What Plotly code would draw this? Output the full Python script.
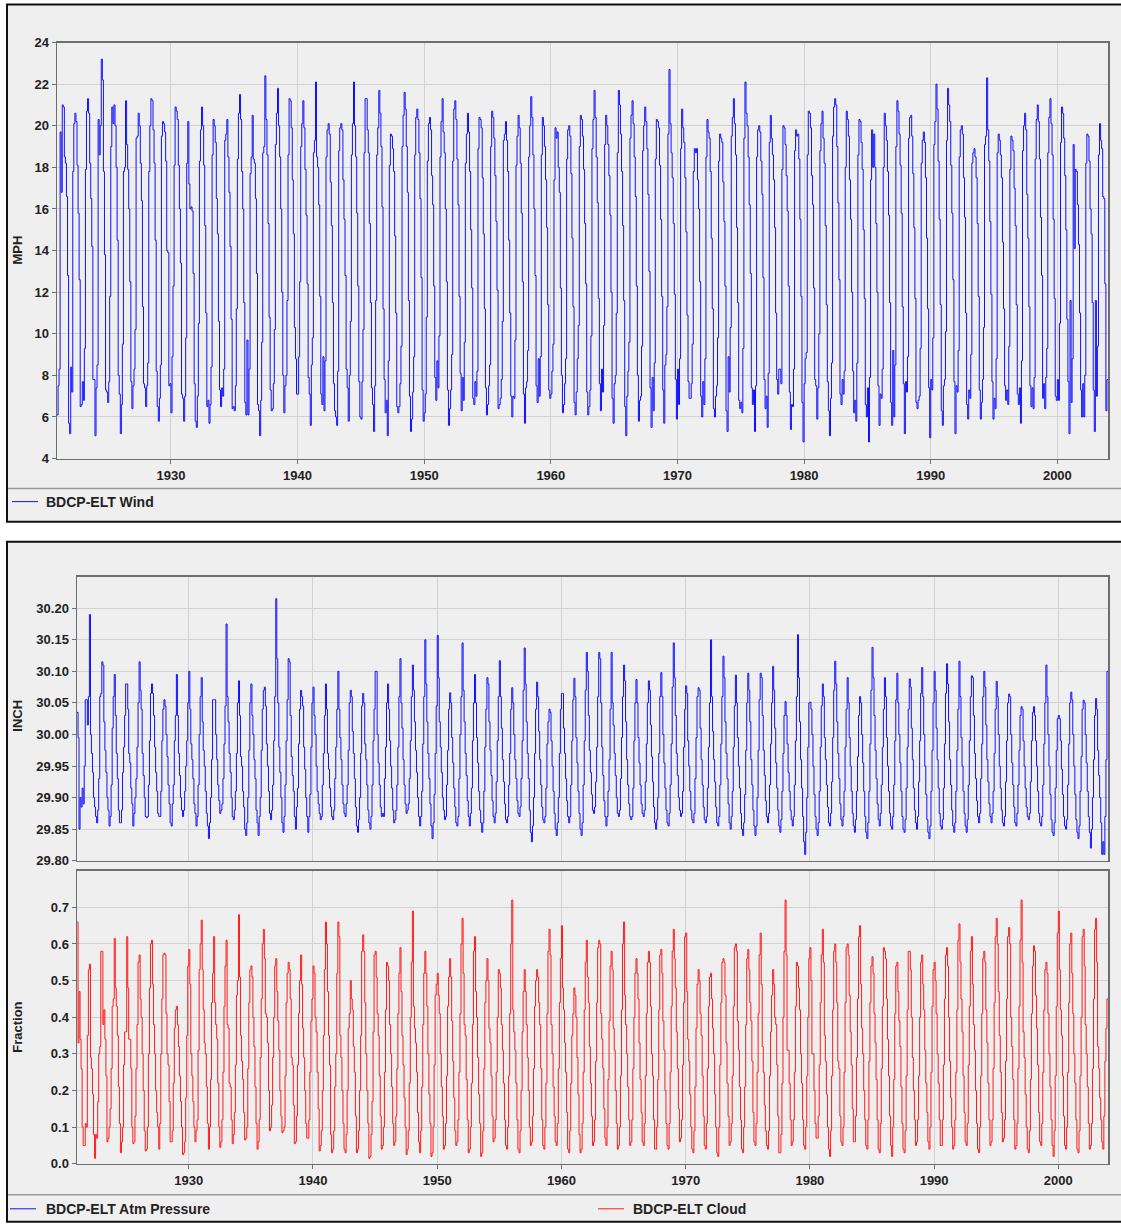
import pandas as pd
import plotly.graph_objects as go

# ---------------- data (monthly, Jan..Dec, one row per calendar year) ----------------
YEARS = list(range(1921, 2004))

WIND_MPH = [
    [6.1, 7.5, 8.3, 19.7, 16.8, 21.0, 20.9, 18.5, 18.2, 16.6, 12.8, 5.7],   # 1921
    [5.2, 8.4, 7.2, 17.8, 20.1, 20.6, 20.2, 18.1, 15.8, 12.6, 6.5, 6.6],
    [7.7, 6.8, 9.3, 17.9, 20.7, 21.3, 20.6, 18.2, 16.5, 14.2, 7.8, 7.8],
    [5.1, 7.4, 8.5, 20.3, 18.6, 20.0, 23.2, 22.2, 17.8, 13.8, 7.3, 7.2],
    [6.7, 7.7, 11.8, 19.0, 20.9, 20.1, 21.0, 20.0, 18.0, 14.5, 8.0, 7.1],
    [5.2, 6.6, 9.5, 17.8, 18.0, 21.2, 19.1, 17.9, 16.0, 12.5, 7.7, 6.4],
    [7.5, 8.3, 10.2, 19.4, 19.5, 20.6, 20.0, 18.2, 16.4, 11.3, 7.6, 7.4],
    [6.5, 7.5, 8.6, 17.8, 20.0, 21.3, 21.2, 19.8, 18.2, 14.5, 8.2, 6.5],
    [5.8, 6.9, 8.5, 19.5, 20.2, 20.1, 19.7, 18.3, 14.0, 13.9, 7.5, 7.6],
    [6.2, 8.9, 12.3, 18.1, 20.9, 20.7, 20.3, 18.1, 16.0, 13.4, 7.1, 6.9],   # 1930
    [5.8, 7.0, 9.8, 18.2, 20.2, 17.2, 16.0, 16.1, 15.9, 12.9, 7.6, 5.8],
    [5.5, 7.0, 10.5, 18.3, 19.8, 20.9, 20.0, 18.1, 15.2, 11.0, 6.5, 6.8],
    [5.7, 6.6, 8.4, 18.6, 20.3, 20.0, 19.2, 16.5, 14.8, 10.6, 7.3, 6.5],
    [7.4, 7.0, 8.3, 19.3, 19.6, 20.3, 18.5, 16.8, 14.2, 10.7, 6.4, 6.5],
    [6.3, 7.5, 11.2, 18.4, 20.6, 21.5, 20.3, 17.8, 16.0, 11.5, 6.7, 6.1],
    [9.7, 6.1, 8.3, 17.7, 18.5, 20.5, 18.4, 18.2, 16.5, 12.9, 6.6, 6.3],
    [5.1, 6.8, 9.6, 18.7, 19.0, 22.4, 20.3, 18.6, 15.3, 10.8, 7.3, 6.3],
    [6.4, 7.6, 10.2, 19.1, 20.6, 21.8, 20.0, 18.5, 16.0, 12.0, 8.0, 6.2],
    [7.5, 8.0, 11.6, 18.6, 21.3, 21.2, 19.9, 17.4, 14.8, 10.3, 8.8, 7.1],
    [7.1, 8.9, 12.5, 19.0, 20.1, 21.2, 19.9, 17.9, 15.7, 12.4, 7.9, 7.1],   # 1940
    [5.6, 8.5, 9.8, 18.7, 19.3, 22.1, 18.5, 18.0, 16.2, 11.8, 7.1, 6.6],
    [8.9, 6.3, 8.7, 18.5, 19.8, 20.1, 19.6, 17.3, 15.2, 11.5, 7.6, 6.3],
    [6.0, 5.6, 8.2, 18.8, 19.9, 20.1, 19.8, 17.4, 15.5, 12.8, 8.3, 7.4],
    [5.8, 8.0, 10.6, 18.6, 20.1, 22.1, 20.0, 18.5, 15.8, 12.3, 7.7, 6.0],
    [5.9, 7.7, 10.2, 18.7, 21.3, 21.3, 19.8, 18.7, 15.3, 11.5, 7.4, 6.6],
    [5.3, 7.5, 11.6, 18.6, 19.9, 21.7, 20.6, 19.0, 16.1, 11.2, 7.8, 6.2],
    [6.8, 5.1, 8.7, 18.1, 19.6, 19.5, 18.9, 17.8, 14.7, 11.0, 6.5, 6.2],
    [6.5, 7.6, 9.4, 19.0, 20.5, 21.6, 20.8, 19.0, 16.8, 11.6, 7.0, 5.3],
    [5.9, 7.2, 8.9, 18.6, 20.4, 20.8, 20.3, 18.7, 16.5, 12.7, 7.3, 5.8],
    [6.2, 7.1, 10.8, 18.3, 20.1, 20.4, 19.8, 17.6, 16.2, 12.3, 7.9, 6.8],   # 1950
    [8.7, 7.4, 9.9, 18.5, 20.2, 21.3, 19.7, 18.7, 16.0, 12.5, 7.3, 5.6],
    [6.4, 7.3, 9.0, 18.3, 20.8, 21.2, 20.3, 18.4, 16.2, 11.8, 8.1, 6.3],
    [7.9, 6.8, 9.6, 18.2, 19.6, 20.6, 19.7, 17.8, 15.0, 12.2, 6.9, 6.6],
    [7.7, 7.0, 8.2, 18.9, 20.4, 20.3, 19.9, 17.5, 14.8, 11.2, 7.4, 6.1],
    [6.6, 7.5, 8.5, 19.0, 20.7, 20.4, 19.4, 17.6, 15.4, 12.1, 6.4, 6.6],
    [6.9, 7.8, 10.6, 19.3, 19.6, 20.2, 19.3, 17.8, 14.5, 11.0, 7.0, 6.0],
    [7.0, 6.9, 9.7, 18.1, 19.5, 20.5, 19.9, 18.2, 15.8, 12.5, 7.1, 5.7],
    [7.4, 7.7, 9.2, 18.5, 20.0, 21.4, 20.4, 18.6, 16.0, 12.8, 7.5, 6.7],
    [8.8, 7.0, 8.9, 18.6, 20.4, 20.0, 19.0, 17.4, 15.1, 11.4, 7.3, 6.9],
    [7.1, 8.2, 9.5, 17.4, 19.9, 19.4, 19.7, 18.0, 16.8, 12.2, 8.0, 6.2],   # 1960
    [6.6, 7.6, 8.8, 18.4, 19.8, 20.0, 19.5, 17.7, 14.6, 11.3, 6.7, 6.1],
    [7.2, 8.8, 10.4, 19.0, 20.5, 20.3, 19.5, 17.9, 15.3, 12.4, 7.2, 6.1],
    [6.5, 7.3, 9.9, 18.9, 20.3, 21.7, 20.4, 18.5, 16.3, 11.7, 7.6, 6.3],
    [8.3, 7.2, 10.4, 19.1, 20.5, 20.0, 19.1, 17.6, 15.7, 12.0, 6.9, 5.7],
    [7.6, 8.0, 11.0, 18.7, 21.7, 21.0, 19.6, 17.8, 15.2, 11.6, 6.5, 5.1],
    [7.0, 8.2, 9.6, 19.4, 20.5, 21.2, 20.1, 18.5, 16.6, 12.3, 8.0, 5.8],
    [6.8, 7.0, 9.4, 18.8, 20.0, 20.9, 20.2, 18.9, 16.7, 13.0, 7.4, 5.5],
    [7.9, 6.3, 8.6, 18.4, 20.3, 20.2, 19.9, 18.1, 15.5, 11.8, 7.3, 5.7],
    [8.5, 9.0, 11.3, 19.6, 22.7, 20.1, 18.7, 17.5, 15.3, 11.9, 7.8, 5.9],
    [8.3, 6.6, 8.8, 18.9, 20.8, 19.9, 19.2, 17.5, 14.9, 10.9, 7.7, 6.9],   # 1970
    [6.9, 7.6, 9.5, 17.8, 18.9, 18.7, 18.9, 17.4, 16.0, 12.5, 7.0, 6.0],
    [7.7, 6.6, 8.8, 18.5, 20.3, 19.7, 19.4, 17.8, 14.6, 11.2, 6.4, 6.0],
    [7.0, 7.5, 9.8, 18.3, 19.6, 19.4, 19.2, 17.3, 15.4, 12.3, 6.3, 5.3],
    [8.9, 7.2, 10.3, 19.5, 20.4, 21.3, 20.1, 18.6, 15.1, 11.5, 6.8, 6.4],
    [6.7, 6.2, 9.3, 19.4, 22.1, 20.6, 20.0, 18.5, 16.2, 12.9, 7.4, 6.6],
    [7.3, 5.3, 7.5, 18.5, 19.8, 20.0, 19.7, 18.3, 16.7, 12.7, 7.8, 6.4],
    [7.0, 5.5, 8.1, 19.2, 20.5, 19.4, 18.6, 17.4, 15.1, 11.0, 7.8, 7.1],
    [8.3, 8.3, 7.6, 17.9, 20.0, 19.9, 19.1, 17.6, 15.9, 12.3, 7.2, 5.4],
    [6.6, 6.5, 8.3, 18.8, 19.8, 19.5, 19.6, 18.4, 15.5, 11.8, 6.7, 4.8],
    [7.6, 8.8, 9.1, 18.6, 20.7, 20.6, 19.9, 17.6, 16.2, 12.2, 7.8, 7.5],   # 1980
    [5.9, 7.4, 10.0, 18.8, 20.1, 20.7, 19.4, 18.2, 15.2, 11.4, 7.7, 6.3],
    [5.1, 6.9, 8.6, 19.5, 20.9, 21.3, 21.0, 19.0, 16.3, 12.6, 7.1, 6.6],
    [7.8, 7.1, 8.2, 18.0, 20.7, 20.3, 19.5, 17.4, 15.5, 12.0, 8.2, 6.2],
    [6.8, 5.8, 8.6, 18.6, 20.3, 20.2, 19.2, 17.9, 15.0, 11.7, 6.6, 6.0],
    [7.4, 4.8, 7.9, 17.4, 19.8, 18.0, 19.6, 18.0, 15.3, 12.0, 7.5, 5.6],
    [7.1, 6.9, 8.3, 18.0, 20.6, 20.0, 19.3, 17.8, 15.7, 11.5, 6.7, 5.6],
    [9.2, 6.0, 8.5, 19.0, 21.2, 20.7, 19.6, 18.1, 15.8, 11.3, 7.6, 5.2],
    [7.7, 7.2, 8.9, 19.4, 20.4, 20.5, 19.5, 17.7, 15.1, 11.7, 6.7, 6.4],
    [6.8, 7.0, 9.3, 18.2, 19.3, 19.7, 19.2, 17.5, 14.6, 11.2, 7.4, 5.0],
    [7.8, 7.3, 9.8, 19.1, 20.2, 22.0, 20.8, 18.3, 15.5, 11.4, 6.3, 5.6],   # 1990
    [7.5, 7.8, 10.1, 19.3, 21.8, 21.0, 20.2, 18.1, 15.8, 12.6, 7.7, 5.2],
    [7.5, 7.2, 9.2, 18.5, 19.8, 20.0, 19.6, 17.5, 15.6, 11.0, 6.6, 5.9],
    [7.3, 6.9, 9.0, 18.2, 18.7, 18.9, 18.5, 17.5, 15.3, 11.8, 7.3, 5.9],
    [6.7, 7.8, 10.3, 19.1, 19.5, 22.3, 19.8, 18.3, 15.4, 11.9, 7.7, 5.9],
    [6.9, 6.4, 8.8, 18.7, 19.6, 19.3, 18.6, 17.5, 14.4, 11.2, 7.5, 6.8],
    [7.3, 6.6, 9.4, 17.9, 19.5, 19.3, 18.8, 17.0, 15.2, 11.4, 7.1, 6.6],
    [7.4, 5.7, 8.7, 18.8, 20.0, 20.6, 19.8, 16.7, 14.6, 11.3, 7.5, 6.5],
    [7.4, 6.4, 7.9, 18.4, 20.3, 21.0, 20.2, 18.4, 15.6, 12.8, 6.9, 7.6],
    [6.4, 7.9, 9.3, 18.7, 20.4, 21.3, 20.1, 18.6, 15.5, 11.7, 7.0, 6.8],
    [7.8, 6.8, 10.5, 19.2, 20.9, 20.6, 19.4, 17.6, 15.0, 10.7, 7.7, 5.2],   # 2000
    [11.6, 6.7, 8.8, 19.1, 14.1, 17.9, 17.8, 16.2, 14.3, 11.0, 7.3, 6.0],
    [7.6, 6.0, 8.0, 18.2, 19.6, 19.5, 18.3, 16.0, 14.8, 11.5, 7.3, 5.3],
    [11.6, 7.0, 9.4, 18.6, 20.1, 19.3, 18.9, 16.6, 16.5, 12.4, 6.3, 7.8],   # 2003
]

ATM_PRESSURE_INCH = [
    [30.035, 29.995, 29.85, 29.90, 29.885, 29.915, 29.89, 29.95, 30.055, 30.055, 30.015, 30.06],  # 1921
    [30.19, 30.00, 29.97, 29.94, 29.90, 29.885, 29.87, 29.86, 29.88, 29.93, 30.06, 30.065],
    [30.115, 30.11, 30.02, 29.975, 29.94, 29.90, 29.88, 29.855, 29.87, 29.92, 30.01, 30.06],
    [30.095, 30.03, 29.97, 29.93, 29.88, 29.86, 29.86, 29.88, 29.94, 29.98, 30.03, 30.08],
    [30.08, 30.04, 29.97, 29.955, 29.915, 29.89, 29.855, 29.875, 29.90, 29.93, 29.98, 30.05],
    [30.115, 30.07, 30.04, 29.97, 29.935, 29.90, 29.87, 29.868, 29.87, 29.92, 29.99, 30.065],
    [30.08, 30.065, 30.03, 29.98, 29.94, 29.91, 29.875, 29.87, 29.87, 29.91, 29.99, 30.04],
    [30.055, 30.045, 30.00, 29.965, 29.92, 29.89, 29.86, 29.855, 29.89, 29.92, 29.99, 30.03],
    [30.095, 30.03, 29.97, 29.935, 29.90, 29.88, 29.87, 29.88, 29.91, 29.95, 29.99, 30.05],
    [30.10, 30.04, 29.985, 29.96, 29.93, 29.89, 29.875, 29.855, 29.87, 29.92, 30.00, 30.06],      # 1930
    [30.09, 30.02, 29.975, 29.95, 29.91, 29.875, 29.855, 29.835, 29.86, 29.90, 29.96, 30.055],
    [30.055, 30.055, 30.00, 29.96, 29.92, 29.895, 29.875, 29.88, 29.89, 29.93, 29.985, 30.045],
    [30.175, 30.06, 30.02, 29.97, 29.94, 29.90, 29.87, 29.865, 29.88, 29.91, 29.97, 30.05],
    [30.085, 30.03, 29.965, 29.95, 29.91, 29.885, 29.85, 29.84, 29.86, 29.90, 29.975, 30.05],
    [30.08, 30.03, 30.00, 29.96, 29.93, 29.88, 29.86, 29.84, 29.87, 29.90, 29.975, 30.04],
    [30.07, 30.075, 30.045, 29.985, 29.95, 29.91, 29.875, 29.865, 29.88, 29.92, 29.99, 30.06],
    [30.215, 30.12, 30.05, 29.98, 29.94, 29.90, 29.86, 29.845, 29.87, 29.92, 29.99, 30.055],
    [30.12, 30.115, 30.03, 29.965, 29.935, 29.91, 29.87, 29.85, 29.885, 29.915, 29.985, 30.04],
    [30.07, 30.06, 30.045, 29.98, 29.945, 29.90, 29.87, 29.845, 29.87, 29.905, 29.98, 30.05],
    [30.075, 30.03, 30.00, 29.95, 29.91, 29.89, 29.875, 29.865, 29.87, 29.92, 29.97, 30.03],      # 1940
    [30.08, 30.04, 29.97, 29.945, 29.915, 29.885, 29.87, 29.865, 29.88, 29.93, 29.98, 30.04],
    [30.10, 30.04, 29.995, 29.96, 29.92, 29.89, 29.875, 29.87, 29.89, 29.92, 29.975, 30.05],
    [30.07, 30.06, 30.005, 29.97, 29.93, 29.885, 29.855, 29.845, 29.865, 29.90, 29.97, 30.045],
    [30.065, 30.05, 29.985, 29.96, 29.92, 29.88, 29.86, 29.85, 29.87, 29.92, 29.99, 30.04],
    [30.10, 30.10, 30.00, 29.955, 29.92, 29.885, 29.87, 29.875, 29.87, 29.93, 29.98, 30.05],
    [30.08, 30.04, 29.99, 29.95, 29.915, 29.88, 29.86, 29.865, 29.88, 29.92, 29.98, 30.06],
    [30.12, 30.05, 30.01, 29.96, 29.92, 29.89, 29.875, 29.88, 29.89, 29.93, 29.99, 30.06],
    [30.11, 30.07, 30.02, 29.975, 29.94, 29.90, 29.87, 29.855, 29.87, 29.91, 29.985, 30.06],
    [30.15, 30.08, 30.02, 29.97, 29.93, 29.89, 29.855, 29.835, 29.86, 29.905, 29.97, 30.045],
    [30.157, 30.09, 30.02, 29.98, 29.94, 29.90, 29.88, 29.865, 29.87, 29.92, 29.975, 30.04],      # 1950
    [30.066, 30.05, 29.995, 29.955, 29.915, 29.885, 29.86, 29.855, 29.87, 29.93, 30.00, 30.06],
    [30.145, 30.07, 30.02, 29.97, 29.935, 29.895, 29.87, 29.855, 29.875, 29.915, 29.99, 30.05],
    [30.095, 30.05, 29.995, 29.955, 29.91, 29.88, 29.86, 29.845, 29.86, 29.91, 29.98, 30.04],
    [30.09, 30.08, 30.02, 29.975, 29.935, 29.895, 29.87, 29.86, 29.875, 29.925, 29.99, 30.06],
    [30.117, 30.06, 30.01, 29.96, 29.925, 29.89, 29.865, 29.86, 29.87, 29.92, 29.97, 30.04],
    [30.074, 30.05, 30.00, 29.96, 29.93, 29.895, 29.875, 29.87, 29.885, 29.93, 29.99, 30.07],
    [30.137, 30.08, 30.02, 29.97, 29.93, 29.88, 29.845, 29.83, 29.855, 29.90, 29.97, 30.04],
    [30.083, 30.06, 30.005, 29.96, 29.92, 29.885, 29.865, 29.86, 29.87, 29.915, 29.985, 30.02],
    [30.04, 30.035, 29.99, 29.95, 29.91, 29.875, 29.85, 29.84, 29.86, 29.90, 29.97, 30.04],
    [30.065, 30.065, 30.01, 29.97, 29.93, 29.895, 29.87, 29.86, 29.87, 29.92, 29.99, 30.055],     # 1960
    [30.089, 30.06, 29.995, 29.955, 29.91, 29.875, 29.85, 29.84, 29.86, 29.92, 29.99, 30.07],
    [30.13, 30.10, 30.03, 29.975, 29.94, 29.905, 29.88, 29.875, 29.885, 29.925, 29.98, 30.06],
    [30.13, 30.12, 30.05, 29.98, 29.935, 29.895, 29.87, 29.855, 29.87, 29.91, 29.96, 30.04],
    [30.13, 30.05, 30.015, 29.97, 29.935, 29.90, 29.875, 29.87, 29.88, 29.93, 29.995, 30.06],
    [30.11, 30.085, 30.02, 29.96, 29.92, 29.89, 29.87, 29.865, 29.87, 29.915, 29.99, 30.05],
    [30.087, 30.05, 29.995, 29.955, 29.92, 29.89, 29.875, 29.87, 29.88, 29.925, 29.985, 30.05],
    [30.085, 30.07, 30.015, 29.965, 29.925, 29.885, 29.86, 29.85, 29.865, 29.90, 29.97, 30.06],
    [30.098, 30.06, 30.00, 29.955, 29.915, 29.88, 29.86, 29.855, 29.875, 29.92, 29.985, 30.075],
    [30.145, 30.09, 30.03, 29.97, 29.935, 29.90, 29.88, 29.87, 29.875, 29.91, 29.98, 30.04],
    [30.077, 30.065, 29.99, 29.95, 29.91, 29.88, 29.865, 29.86, 29.875, 29.93, 29.995, 30.06],    # 1970
    [30.074, 30.07, 30.01, 29.96, 29.92, 29.885, 29.865, 29.86, 29.87, 29.915, 29.98, 30.05],
    [30.15, 30.06, 30.005, 29.96, 29.925, 29.885, 29.86, 29.855, 29.87, 29.92, 29.985, 30.06],
    [30.124, 30.09, 30.02, 29.97, 29.93, 29.89, 29.86, 29.85, 29.87, 29.91, 29.98, 30.045],
    [30.094, 30.05, 29.995, 29.95, 29.915, 29.875, 29.85, 29.84, 29.86, 29.905, 29.975, 30.05],
    [30.097, 30.07, 30.02, 29.96, 29.92, 29.88, 29.855, 29.84, 29.855, 29.90, 29.975, 30.055],
    [30.097, 30.09, 30.03, 29.975, 29.935, 29.895, 29.87, 29.86, 29.875, 29.92, 29.985, 30.05],
    [30.108, 30.07, 30.01, 29.955, 29.915, 29.88, 29.855, 29.845, 29.865, 29.91, 29.97, 30.03],
    [30.052, 30.03, 29.985, 29.94, 29.91, 29.88, 29.865, 29.855, 29.87, 29.92, 29.99, 30.06],
    [30.158, 30.09, 30.02, 29.96, 29.915, 29.87, 29.83, 29.81, 29.845, 29.90, 29.98, 30.05],
    [30.051, 30.04, 30.00, 29.95, 29.905, 29.87, 29.85, 29.84, 29.86, 29.91, 29.98, 30.045],      # 1980
    [30.08, 30.06, 29.995, 29.96, 29.92, 29.885, 29.86, 29.855, 29.875, 29.925, 29.995, 30.07],
    [30.116, 30.08, 30.02, 29.97, 29.93, 29.89, 29.865, 29.855, 29.87, 29.91, 29.98, 30.04],
    [30.09, 30.05, 29.995, 29.95, 29.91, 29.875, 29.855, 29.845, 29.865, 29.91, 29.965, 30.03],
    [30.06, 30.05, 30.00, 29.955, 29.91, 29.87, 29.845, 29.835, 29.86, 29.91, 29.985, 30.07],
    [30.138, 30.09, 30.03, 29.975, 29.93, 29.89, 29.865, 29.855, 29.875, 29.92, 29.98, 30.04],
    [30.09, 30.06, 29.995, 29.95, 29.91, 29.875, 29.855, 29.85, 29.87, 29.92, 29.99, 30.055],
    [30.097, 30.05, 30.00, 29.955, 29.91, 29.87, 29.85, 29.845, 29.865, 29.915, 29.98, 30.04],
    [30.088, 30.075, 30.01, 29.96, 29.915, 29.88, 29.86, 29.85, 29.87, 29.925, 29.99, 30.065],
    [30.106, 30.06, 30.00, 29.95, 29.905, 29.865, 29.845, 29.835, 29.855, 29.91, 29.975, 30.05],
    [30.10, 30.07, 30.01, 29.96, 29.915, 29.875, 29.855, 29.85, 29.865, 29.915, 29.985, 30.065],   # 1990
    [30.112, 30.08, 30.02, 29.96, 29.92, 29.88, 29.855, 29.845, 29.86, 29.91, 29.975, 30.04],
    [30.116, 30.06, 29.995, 29.95, 29.91, 29.875, 29.855, 29.845, 29.865, 29.92, 29.99, 30.06],
    [30.093, 30.09, 30.03, 29.97, 29.93, 29.895, 29.87, 29.86, 29.875, 29.93, 29.985, 30.06],
    [30.10, 30.075, 30.015, 29.96, 29.925, 29.89, 29.87, 29.86, 29.875, 29.91, 29.97, 30.04],
    [30.084, 30.06, 30.00, 29.95, 29.915, 29.88, 29.86, 29.855, 29.87, 29.925, 29.99, 30.05],
    [30.064, 30.06, 30.00, 29.955, 29.92, 29.885, 29.86, 29.855, 29.875, 29.92, 29.975, 30.03],
    [30.044, 30.04, 29.99, 29.95, 29.915, 29.885, 29.87, 29.865, 29.875, 29.925, 29.99, 30.035],
    [30.044, 30.03, 29.99, 29.95, 29.91, 29.875, 29.86, 29.855, 29.87, 29.92, 29.985, 30.05],
    [30.11, 30.06, 30.00, 29.95, 29.905, 29.865, 29.845, 29.84, 29.86, 29.915, 29.975, 30.025],
    [30.03, 30.025, 29.99, 29.945, 29.905, 29.87, 29.855, 29.85, 29.865, 29.92, 29.985, 30.05],   # 2000
    [30.067, 30.055, 30.00, 29.95, 29.905, 29.865, 29.845, 29.835, 29.855, 29.91, 29.965, 30.04],
    [30.054, 30.05, 30.00, 29.955, 29.91, 29.87, 29.845, 29.82, 29.85, 29.90, 29.96, 30.03],
    [30.057, 30.04, 29.975, 29.935, 29.90, 29.86, 29.81, 29.83, 29.81, 29.87, 29.96, 30.10],      # 2003
]

CLOUD_FRACTION = [
    [0.66, 0.33, 0.47, 0.34, 0.26, 0.10, 0.05, 0.05, 0.11, 0.10, 0.35, 0.53],   # 1921
    [0.545, 0.29, 0.26, 0.19, 0.08, 0.015, 0.08, 0.07, 0.17, 0.30, 0.32, 0.58],
    [0.58, 0.38, 0.42, 0.34, 0.24, 0.06, 0.07, 0.10, 0.15, 0.26, 0.43, 0.45],
    [0.615, 0.48, 0.43, 0.35, 0.21, 0.11, 0.03, 0.06, 0.10, 0.27, 0.36, 0.36],
    [0.62, 0.48, 0.34, 0.34, 0.26, 0.10, 0.055, 0.06, 0.13, 0.26, 0.38, 0.55],
    [0.57, 0.45, 0.40, 0.30, 0.20, 0.09, 0.035, 0.04, 0.10, 0.30, 0.48, 0.60],
    [0.61, 0.49, 0.38, 0.30, 0.20, 0.14, 0.10, 0.04, 0.11, 0.30, 0.45, 0.57],
    [0.575, 0.57, 0.41, 0.30, 0.27, 0.17, 0.06, 0.06, 0.09, 0.22, 0.37, 0.42],
    [0.43, 0.38, 0.32, 0.24, 0.17, 0.10, 0.025, 0.03, 0.06, 0.18, 0.35, 0.54],
    [0.585, 0.49, 0.30, 0.24, 0.17, 0.10, 0.06, 0.09, 0.12, 0.31, 0.53, 0.60],  # 1930
    [0.665, 0.53, 0.42, 0.33, 0.30, 0.21, 0.11, 0.04, 0.10, 0.23, 0.44, 0.52],
    [0.62, 0.44, 0.38, 0.34, 0.22, 0.10, 0.045, 0.06, 0.12, 0.25, 0.43, 0.54],
    [0.61, 0.38, 0.37, 0.22, 0.21, 0.12, 0.055, 0.08, 0.14, 0.27, 0.46, 0.50],
    [0.68, 0.51, 0.35, 0.28, 0.23, 0.14, 0.065, 0.07, 0.10, 0.26, 0.44, 0.53],
    [0.54, 0.51, 0.40, 0.32, 0.21, 0.11, 0.04, 0.06, 0.12, 0.29, 0.45, 0.60],
    [0.64, 0.56, 0.41, 0.40, 0.33, 0.20, 0.09, 0.10, 0.16, 0.29, 0.40, 0.54],
    [0.56, 0.47, 0.39, 0.31, 0.20, 0.13, 0.085, 0.09, 0.10, 0.24, 0.44, 0.52],
    [0.55, 0.53, 0.45, 0.29, 0.27, 0.16, 0.055, 0.06, 0.13, 0.27, 0.41, 0.50],
    [0.57, 0.49, 0.37, 0.29, 0.20, 0.11, 0.07, 0.07, 0.12, 0.25, 0.39, 0.45],
    [0.54, 0.52, 0.40, 0.36, 0.25, 0.15, 0.035, 0.05, 0.09, 0.20, 0.35, 0.53],  # 1940
    [0.66, 0.60, 0.47, 0.35, 0.27, 0.08, 0.03, 0.04, 0.09, 0.21, 0.30, 0.52],
    [0.66, 0.62, 0.35, 0.29, 0.20, 0.11, 0.04, 0.03, 0.08, 0.20, 0.37, 0.41],
    [0.50, 0.45, 0.42, 0.32, 0.25, 0.13, 0.03, 0.04, 0.09, 0.20, 0.35, 0.58],
    [0.625, 0.58, 0.44, 0.30, 0.20, 0.11, 0.015, 0.02, 0.08, 0.17, 0.36, 0.57],
    [0.58, 0.51, 0.41, 0.35, 0.24, 0.13, 0.04, 0.05, 0.10, 0.25, 0.42, 0.55],
    [0.54, 0.50, 0.38, 0.30, 0.21, 0.11, 0.05, 0.06, 0.13, 0.26, 0.41, 0.52],
    [0.59, 0.47, 0.35, 0.27, 0.18, 0.10, 0.025, 0.04, 0.09, 0.22, 0.40, 0.55],
    [0.69, 0.43, 0.37, 0.33, 0.25, 0.14, 0.06, 0.03, 0.09, 0.21, 0.38, 0.52],
    [0.58, 0.52, 0.43, 0.30, 0.19, 0.11, 0.02, 0.03, 0.10, 0.27, 0.46, 0.49],
    [0.52, 0.46, 0.41, 0.30, 0.21, 0.13, 0.04, 0.05, 0.11, 0.24, 0.43, 0.51],   # 1950
    [0.56, 0.51, 0.39, 0.28, 0.18, 0.09, 0.05, 0.06, 0.12, 0.25, 0.41, 0.60],
    [0.67, 0.52, 0.38, 0.35, 0.23, 0.12, 0.03, 0.04, 0.10, 0.22, 0.38, 0.58],
    [0.62, 0.47, 0.40, 0.29, 0.19, 0.11, 0.02, 0.03, 0.09, 0.26, 0.44, 0.50],
    [0.56, 0.50, 0.37, 0.33, 0.24, 0.13, 0.06, 0.07, 0.12, 0.25, 0.40, 0.53],
    [0.52, 0.48, 0.38, 0.31, 0.22, 0.12, 0.05, 0.04, 0.10, 0.24, 0.41, 0.60],
    [0.72, 0.42, 0.36, 0.31, 0.22, 0.12, 0.04, 0.03, 0.09, 0.20, 0.36, 0.47],
    [0.53, 0.47, 0.38, 0.29, 0.20, 0.10, 0.05, 0.06, 0.13, 0.26, 0.43, 0.50],
    [0.53, 0.51, 0.44, 0.38, 0.26, 0.12, 0.05, 0.04, 0.10, 0.22, 0.41, 0.58],
    [0.64, 0.57, 0.38, 0.30, 0.21, 0.13, 0.06, 0.05, 0.11, 0.26, 0.44, 0.56],
    [0.65, 0.48, 0.42, 0.33, 0.25, 0.14, 0.04, 0.03, 0.09, 0.22, 0.35, 0.41],   # 1960
    [0.48, 0.46, 0.40, 0.29, 0.19, 0.08, 0.03, 0.04, 0.11, 0.25, 0.42, 0.55],
    [0.61, 0.51, 0.44, 0.32, 0.22, 0.13, 0.05, 0.06, 0.12, 0.28, 0.44, 0.59],
    [0.61, 0.60, 0.41, 0.34, 0.26, 0.15, 0.07, 0.05, 0.10, 0.23, 0.39, 0.54],
    [0.58, 0.53, 0.37, 0.31, 0.20, 0.11, 0.04, 0.05, 0.10, 0.24, 0.42, 0.60],
    [0.66, 0.46, 0.38, 0.30, 0.21, 0.12, 0.05, 0.06, 0.12, 0.26, 0.40, 0.52],
    [0.56, 0.52, 0.45, 0.33, 0.23, 0.14, 0.06, 0.05, 0.11, 0.24, 0.41, 0.55],
    [0.58, 0.55, 0.43, 0.30, 0.24, 0.12, 0.04, 0.04, 0.10, 0.23, 0.42, 0.57],
    [0.585, 0.52, 0.39, 0.31, 0.20, 0.11, 0.05, 0.04, 0.11, 0.25, 0.43, 0.58],
    [0.64, 0.56, 0.48, 0.36, 0.26, 0.15, 0.06, 0.07, 0.12, 0.27, 0.44, 0.62],
    [0.63, 0.47, 0.34, 0.28, 0.19, 0.10, 0.04, 0.03, 0.09, 0.21, 0.37, 0.49],   # 1970
    [0.53, 0.50, 0.41, 0.35, 0.24, 0.13, 0.05, 0.04, 0.11, 0.26, 0.43, 0.51],
    [0.52, 0.45, 0.37, 0.30, 0.19, 0.10, 0.03, 0.02, 0.10, 0.27, 0.44, 0.55],
    [0.56, 0.55, 0.46, 0.33, 0.22, 0.13, 0.05, 0.06, 0.11, 0.24, 0.43, 0.59],
    [0.60, 0.58, 0.39, 0.31, 0.21, 0.12, 0.04, 0.03, 0.10, 0.21, 0.38, 0.56],
    [0.585, 0.53, 0.44, 0.39, 0.28, 0.14, 0.06, 0.05, 0.11, 0.25, 0.41, 0.57],
    [0.63, 0.49, 0.32, 0.25, 0.16, 0.09, 0.05, 0.04, 0.09, 0.24, 0.36, 0.46],
    [0.53, 0.49, 0.40, 0.38, 0.27, 0.13, 0.03, 0.03, 0.08, 0.22, 0.40, 0.58],
    [0.72, 0.57, 0.31, 0.31, 0.22, 0.12, 0.05, 0.06, 0.12, 0.25, 0.43, 0.55],
    [0.54, 0.48, 0.42, 0.30, 0.22, 0.12, 0.05, 0.04, 0.10, 0.24, 0.40, 0.56],
    [0.59, 0.50, 0.30, 0.30, 0.20, 0.11, 0.07, 0.07, 0.13, 0.27, 0.44, 0.57],   # 1980
    [0.64, 0.55, 0.35, 0.28, 0.19, 0.10, 0.04, 0.02, 0.09, 0.24, 0.42, 0.58],
    [0.60, 0.55, 0.44, 0.28, 0.26, 0.13, 0.06, 0.05, 0.10, 0.25, 0.44, 0.59],
    [0.60, 0.57, 0.46, 0.36, 0.27, 0.15, 0.06, 0.06, 0.13, 0.29, 0.45, 0.62],
    [0.65, 0.49, 0.37, 0.30, 0.20, 0.12, 0.05, 0.04, 0.12, 0.28, 0.44, 0.54],
    [0.565, 0.52, 0.41, 0.33, 0.23, 0.12, 0.04, 0.03, 0.11, 0.26, 0.43, 0.59],
    [0.58, 0.56, 0.45, 0.34, 0.24, 0.13, 0.05, 0.02, 0.10, 0.23, 0.41, 0.54],
    [0.55, 0.47, 0.39, 0.32, 0.21, 0.11, 0.04, 0.03, 0.09, 0.24, 0.42, 0.58],
    [0.58, 0.53, 0.40, 0.29, 0.20, 0.12, 0.05, 0.06, 0.12, 0.24, 0.40, 0.55],
    [0.57, 0.49, 0.42, 0.31, 0.22, 0.14, 0.06, 0.04, 0.10, 0.25, 0.43, 0.53],
    [0.55, 0.50, 0.41, 0.30, 0.22, 0.12, 0.05, 0.05, 0.12, 0.27, 0.45, 0.57],   # 1990
    [0.59, 0.54, 0.40, 0.28, 0.18, 0.10, 0.04, 0.05, 0.12, 0.25, 0.42, 0.61],
    [0.655, 0.55, 0.45, 0.36, 0.24, 0.14, 0.06, 0.05, 0.11, 0.27, 0.43, 0.58],
    [0.62, 0.49, 0.38, 0.31, 0.20, 0.11, 0.04, 0.03, 0.10, 0.24, 0.41, 0.56],
    [0.58, 0.55, 0.42, 0.33, 0.22, 0.12, 0.05, 0.06, 0.12, 0.26, 0.44, 0.62],
    [0.67, 0.60, 0.47, 0.35, 0.25, 0.14, 0.06, 0.07, 0.12, 0.28, 0.45, 0.62],
    [0.645, 0.60, 0.40, 0.32, 0.23, 0.12, 0.04, 0.05, 0.11, 0.26, 0.43, 0.61],
    [0.72, 0.55, 0.36, 0.29, 0.19, 0.10, 0.04, 0.03, 0.09, 0.23, 0.41, 0.54],
    [0.595, 0.58, 0.46, 0.37, 0.27, 0.14, 0.06, 0.05, 0.11, 0.25, 0.42, 0.53],
    [0.55, 0.52, 0.41, 0.30, 0.21, 0.12, 0.05, 0.02, 0.09, 0.24, 0.43, 0.63],
    [0.69, 0.53, 0.42, 0.35, 0.24, 0.13, 0.05, 0.04, 0.10, 0.25, 0.44, 0.60],   # 2000
    [0.63, 0.52, 0.41, 0.30, 0.22, 0.12, 0.04, 0.03, 0.09, 0.24, 0.40, 0.62],
    [0.64, 0.54, 0.38, 0.30, 0.21, 0.11, 0.04, 0.05, 0.11, 0.26, 0.45, 0.64],
    [0.67, 0.55, 0.32, 0.26, 0.18, 0.12, 0.06, 0.04, 0.13, 0.28, 0.37, 0.45],   # 2003
]

X_TICK_YEARS = [1930, 1940, 1950, 1960, 1970, 1980, 1990, 2000]
WIND_TICKS = [4, 6, 8, 10, 12, 14, 16, 18, 20, 22, 24]
PRESSURE_TICKS = [29.80, 29.85, 29.90, 29.95, 30.00, 30.05, 30.10, 30.15, 30.20]
CLOUD_TICKS = [0.0, 0.1, 0.2, 0.3, 0.4, 0.5, 0.6, 0.7]

SERIES_NAMES = ["BDCP-ELT Wind", "BDCP-ELT Atm Pressure", "BDCP-ELT Cloud"]

# ---------------- build step series ----------------
months = pd.date_range(start=f"{YEARS[0]}-01-01", periods=len(YEARS) * 12, freq="MS")
x_dates = list(months) + [pd.Timestamp(f"{YEARS[-1] + 1}-01-01")]


def flat(rows):
    vals = [v for row in rows for v in row]
    return vals + [vals[-1]]  # last month extends to the end of its month


wind = flat(WIND_MPH)
press = flat(ATM_PRESSURE_INCH)
cloud = flat(CLOUD_FRACTION)

W, H = 1121, 1224
# the page is photographed with a slight vertical squeeze; compensate for it
SY, OY = 0.9875, 7.5


def px(x):
    return x / W


def py(y):
    return 1 - ((y - OY) / SY) / H


FONT = "Liberation Sans, Arial, sans-serif"
BLUE = "#1010ff"
RED = "#ff1a1a"

fig = go.Figure()
fig.add_trace(go.Scatter(x=x_dates, y=wind, mode="lines", line=dict(color=BLUE, width=1, shape="hv"),
                         name=SERIES_NAMES[0], xaxis="x", yaxis="y", showlegend=False))
fig.add_trace(go.Scatter(x=x_dates, y=press, mode="lines", line=dict(color=BLUE, width=1, shape="hv"),
                         name=SERIES_NAMES[1], xaxis="x2", yaxis="y2", showlegend=False))
fig.add_trace(go.Scatter(x=x_dates, y=cloud, mode="lines", line=dict(color=RED, width=1, shape="hv"),
                         name=SERIES_NAMES[2], xaxis="x3", yaxis="y3", showlegend=False))

x_range = [f"{YEARS[0]}-01-01", f"{YEARS[-1] + 1}-01-01"]
tickvals_x = [f"{y}-01-01" for y in X_TICK_YEARS]
ticktext_x = [str(y) for y in X_TICK_YEARS]

tickfont = dict(family=FONT, size=13, color="#222222", weight="bold")
common_axis = dict(showline=True, mirror=True, linecolor="#6e6e6e", linewidth=1.5,
                   gridcolor="#d2d2d2", gridwidth=1, zeroline=False,
                   ticks="outside", ticklen=4, tickcolor="#6e6e6e", tickfont=tickfont)

fig.update_layout(
    width=W, height=H,
    margin=dict(l=0, r=0, t=0, b=0, pad=0),
    paper_bgcolor="white",
    plot_bgcolor="white",
    showlegend=False,
    hovermode=False,
    xaxis=dict(domain=[px(57), px(1108)], anchor="y", type="date", range=x_range,
               tickvals=tickvals_x, ticktext=ticktext_x, **common_axis),
    yaxis=dict(domain=[py(459), py(43)], anchor="x", range=[4, 24],
               tickvals=WIND_TICKS, ticktext=[str(v) for v in WIND_TICKS], **common_axis),
    xaxis2=dict(domain=[px(77), px(1108)], anchor="y2", type="date", range=x_range,
                tickvals=tickvals_x, showticklabels=False,
                **{**common_axis, "ticks": ""}),
    yaxis2=dict(domain=[py(861), py(577)], anchor="x2", range=[29.80, 30.25],
                tickvals=PRESSURE_TICKS, ticktext=[f"{v:.2f}" for v in PRESSURE_TICKS], **common_axis),
    xaxis3=dict(domain=[px(77), px(1108)], anchor="y3", type="date", range=x_range,
                tickvals=tickvals_x, ticktext=ticktext_x, **common_axis),
    yaxis3=dict(domain=[py(1164), py(871)], anchor="x3", range=[0, 0.80],
                tickvals=CLOUD_TICKS, ticktext=[f"{v:.1f}" for v in CLOUD_TICKS], **common_axis),
)

shapes = []
# panel backgrounds with dark frames
for (y0, y1) in [(5, 522), (542, 1222)]:
    shapes.append(dict(type="rect", xref="paper", yref="paper", layer="below",
                       x0=px(7), x1=px(1125), y0=py(y1), y1=py(y0),
                       fillcolor="#efefef", line=dict(color="#111111", width=2)))
# legend strip separators
for ysep in (489, 1195):
    shapes.append(dict(type="line", xref="paper", yref="paper", layer="above",
                       x0=px(8), x1=px(1121), y0=py(ysep), y1=py(ysep),
                       line=dict(color="#9a9a9a", width=1.5)))
# legend line samples
legend_items = [
    (12, 38, 502, BLUE, 44, SERIES_NAMES[0]),
    (10, 36, 1209, BLUE, 44, SERIES_NAMES[1]),
    (598, 624, 1209, RED, 631, SERIES_NAMES[2]),
]
annotations = []
for (lx0, lx1, ly, col, tx, name) in legend_items:
    shapes.append(dict(type="line", xref="paper", yref="paper", layer="above",
                       x0=px(lx0), x1=px(lx1), y0=py(ly), y1=py(ly),
                       line=dict(color=col, width=1)))
    annotations.append(dict(xref="paper", yref="paper", x=px(tx), y=py(ly), text=name,
                            showarrow=False, xanchor="left", yanchor="middle",
                            font=dict(family=FONT, size=14, color="#222222", weight="bold")))
# y-axis titles
for (title, ty) in [("MPH", 251), ("INCH", 716), ("Fraction", 1028)]:
    annotations.append(dict(xref="paper", yref="paper", x=px(18), y=py(ty), text=title,
                            showarrow=False, textangle=-90, xanchor="center", yanchor="middle",
                            font=dict(family=FONT, size=13, color="#222222", weight="bold")))

fig.update_layout(shapes=shapes, annotations=annotations)

fig.write_html("out.html", include_plotlyjs=True, full_html=True,
               config={"displayModeBar": False, "staticPlot": True},
               post_script="document.body.style.margin='0';document.body.style.overflow='hidden';")
